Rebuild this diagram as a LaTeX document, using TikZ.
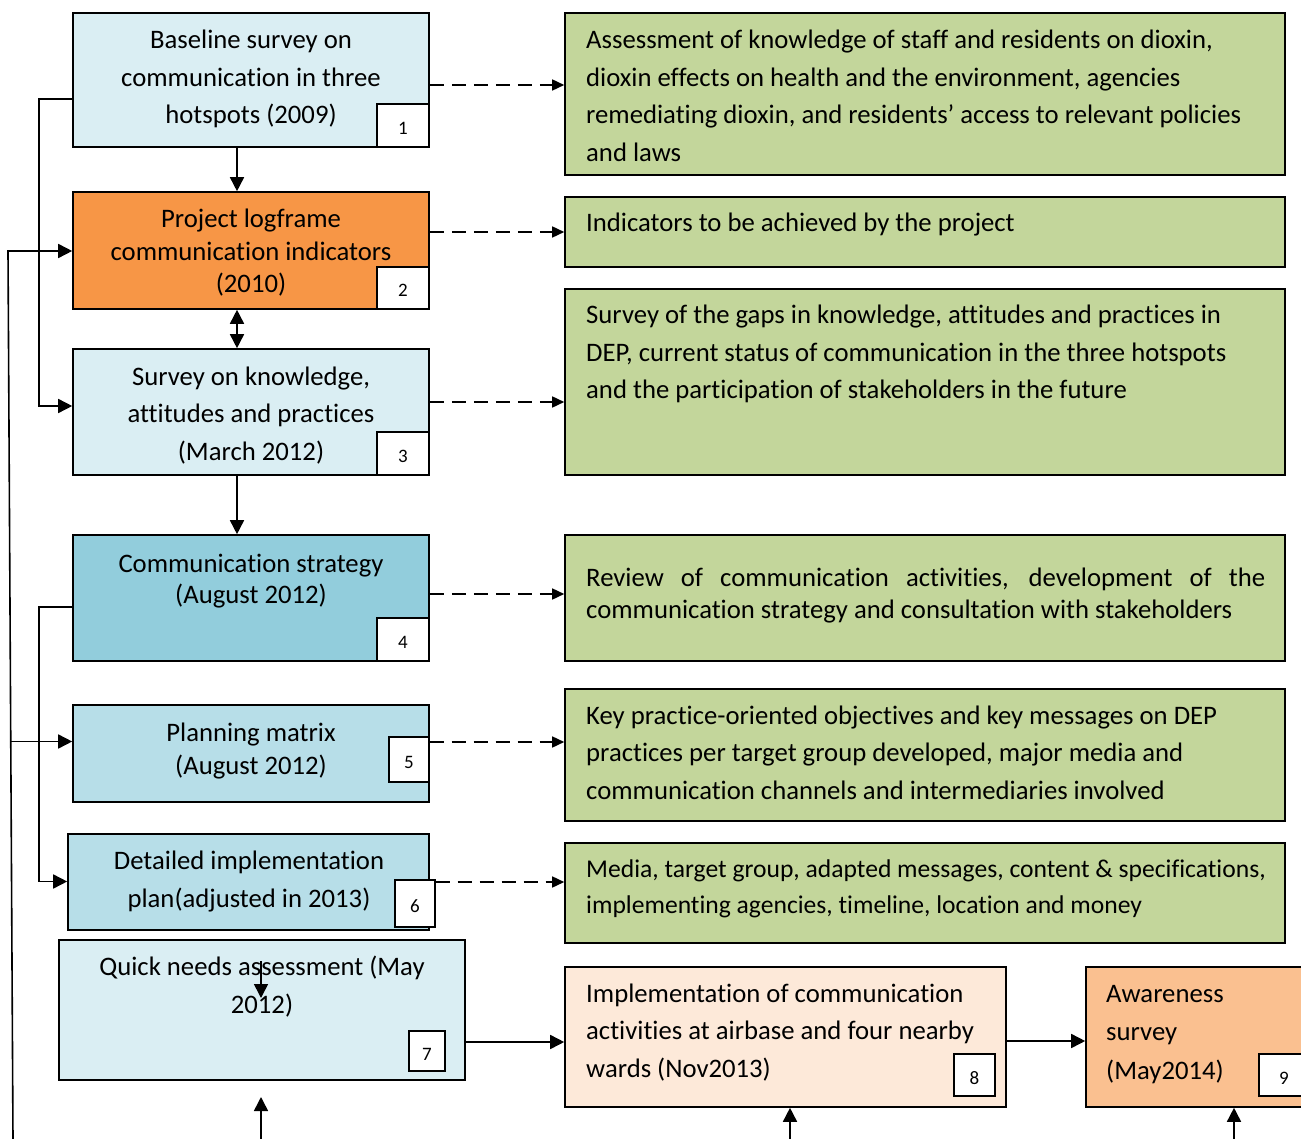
\documentclass[tikz,border=0pt]{standalone}
\usepackage{fontspec}
\setmainfont{Carlito}[Ligatures=NoCommon]
\usetikzlibrary{arrows.meta,fit}

\definecolor{paleblue}{HTML}{DAEEF3}
\definecolor{midblue}{HTML}{B7DEE8}
\definecolor{tealblue}{HTML}{92CDDC}
\definecolor{logorange}{HTML}{F79646}
\definecolor{peach}{HTML}{FDE9D9}
\definecolor{apricot}{HTML}{FAC090}
\definecolor{olive}{HTML}{C3D69B}

\newcommand\bodyfont[1]{\fontsize{26.7}{#1}\selectfont}

\begin{document}
\begin{tikzpicture}[x=1pt,y=-1pt,
    box/.style={draw=black, line width=1.6pt, inner sep=0pt},
    numbox/.style={draw=black, fill=white, line width=1.4pt, inner sep=0pt,
      text height=18pt, text depth=0pt, font=\fontsize{19}{19}\selectfont},
    ctext/.style={inner sep=0pt, align=center, anchor=base},
    ltext/.style={inner sep=0pt, align=left, anchor=base west},
    flow/.style={-{Triangle[length=14pt,width=14pt]}, line width=1.6pt},
    twoway/.style={{Triangle[length=14pt,width=14pt]}-{Triangle[length=14pt,width=14pt]}, line width=1.6pt},
    link/.style={-{Triangle[length=12pt,width=11pt]}, line width=1.6pt,
      dash pattern=on 14pt off 8pt}]

    \useasboundingbox (0,0) rectangle (1301,1139);
    \clip (0,0) rectangle (1301,1139);

    % left column
    \node[box, fill=paleblue, fit={(73,13) (429,147)}] (b1) {};
    \node[box, fill=logorange, fit={(73,192) (429,309)}] (b2) {};
    \node[box, fill=paleblue, fit={(73,349) (429,475)}] (b3) {};
    \node[box, fill=tealblue, fit={(73,535) (429,661)}] (b4) {};
    \node[box, fill=midblue, fit={(73,705) (429,802)}] (b5) {};
    \node[box, fill=midblue, fit={(68,834) (429,930)}] (b6) {};
    \node[box, fill=paleblue, fit={(59,940) (465,1080)}] (b7) {};

    % bottom row
    \node[box, fill=peach, fit={(565,967) (1006,1107)}] (b8) {};
    \node[box, fill=apricot, fit={(1086,967) (1310,1107)}] (b9) {};

    % right column
    \node[box, fill=olive, fit={(565,13) (1285,175)}] (g1) {};
    \node[box, fill=olive, fit={(565,197) (1285,267)}] (g2) {};
    \node[box, fill=olive, fit={(565,289) (1285,475)}] (g3) {};
    \node[box, fill=olive, fit={(565,535) (1285,661)}] (g4) {};
    \node[box, fill=olive, fit={(565,689) (1285,821)}] (g5) {};
    \node[box, fill=olive, fit={(565,843) (1285,943)}] (g6) {};

    % step numbers
    \node[numbox, minimum width=52pt, minimum height=43pt] (n1) at (403,125.5) {1};
    \node[numbox, minimum width=52pt, minimum height=42pt] (n2) at (403,288) {2};
    \node[numbox, minimum width=52pt, minimum height=43pt] (n3) at (403,453.5) {3};
    \node[numbox, minimum width=52pt, minimum height=43pt] (n4) at (403,639.5) {4};
    \node[numbox, minimum width=40pt, minimum height=45pt] (n5) at (409,759.5) {5};
    \node[numbox, minimum width=40pt, minimum height=47pt] (n6) at (415,903.5) {6};
    \node[numbox, minimum width=36pt, minimum height=40pt] (n7) at (427,1051) {7};
    \node[numbox, minimum width=41pt, minimum height=42pt] (n8) at (974.5,1075) {8};
    \node[numbox, minimum width=50pt, minimum height=42pt] (n9) at (1284,1075) {9};

    % texts
    \node[ctext, font=\bodyfont{37.5}] (t1) at (251,124)
      {Baseline survey on\\communication in three\\hotspots (2009)};
    \node[ctext, font=\bodyfont{32.5}] (t2) at (251,293)
      {Project logframe\\communication indicators\\(2010)};
    \node[ctext, font=\bodyfont{37.5}] (t3) at (251,460)
      {Survey on knowledge,\\attitudes and practices\\(March 2012)};
    \node[ctext, font=\bodyfont{31}] (t4) at (251,603)
      {Communication strategy\\(August 2012)};
    \node[ctext, font=\bodyfont{32.5}] (t5) at (251,774)
      {Planning matrix\\(August 2012)};
    \node[ctext, font=\bodyfont{38}] (t6) at (249,907)
      {Detailed implementation\\plan(adjusted in 2013)};
    \node[ctext, font=\bodyfont{37.5}] (t7) at (262,1013)
      {Quick needs assessment (May\\2012)};
    \node[ltext, font=\bodyfont{37.5}] (t8) at (586,1077)
      {Implementation of communication\\activities at airbase and four nearby\\wards (Nov2013)};
    \node[ltext, font=\bodyfont{38.5}] (t9) at (1106,1079)
      {Awareness\\survey\\(May2014)};

    \node[ltext, font=\bodyfont{37.5}] (s1) at (586,161.5)
      {Assessment of knowledge of staff and residents on dioxin,\\dioxin effects on health and the environment, agencies\\remediating dioxin, and residents’ access to relevant policies\\and laws};
    \node[ltext, font=\bodyfont{37.5}] (s2) at (586,232)
      {Indicators to be achieved by the project};
    \node[ltext, font=\bodyfont{37.5}] (s3) at (586,399)
      {Survey of the gaps in knowledge, attitudes and practices in\\DEP, current status of communication in the three hotspots\\and the participation of stakeholders in the future};
    \node[ltext, font=\bodyfont{32}] (s4) at (586,618)
      {\makebox[679pt][s]{Review of communication activities, development of the}\\communication strategy and consultation with stakeholders};
    \node[ltext, font=\bodyfont{37.5}] (s5) at (586,799)
      {Key practice-oriented objectives and key messages on DEP\\practices per target group developed, major media and\\communication channels and intermediaries involved};
    \node[ltext, font=\fontsize{25.6}{36}\selectfont] (s6) at (586,913)
      {Media, target group, adapted messages, content \& specifications,\\implementing agencies, timeline, location and money};

    % main flow
    \draw[flow] (b1.south -| 237,0) -- (b2.north -| 237,0);
    \draw[twoway] (b2.south -| 237,0) -- (b3.north -| 237,0);
    \draw[flow] (b3.south -| 237,0) -- (b4.north -| 237,0);

    % feedback lines on the left
    \draw[flow] (b1.west |- 0,99) -| (39,406) -- (b3.west |- 0,406);
    \draw[flow] (13,1139) -- (8,251) -- (b2.west |- 0,251);
    \draw[flow] (10.5,741.5) -- (b5.west |- 0,741.5);
    \draw[flow] (b4.west |- 0,607) -| (39,881.5) -- (b6.west |- 0,881.5);

    % outputs
    \draw[link] (b1.east |- 0,85) -- (g1.west |- 0,85);
    \draw[link] (b2.east |- 0,232) -- (g2.west |- 0,232);
    \draw[link] (b3.east |- 0,402) -- (g3.west |- 0,402);
    \draw[link] (b4.east |- 0,594) -- (g4.west |- 0,594);
    \draw[link] (n5.east |- 0,742) -- (g5.west |- 0,742);
    \draw[link] (n6.east |- 0,882) -- (g6.west |- 0,882);

    % bottom row
    \draw[flow] (b7.east |- 0,1042) -- (b8.west |- 0,1042);
    \draw[flow] (b8.east |- 0,1041) -- (b9.west |- 0,1041);
    \coordinate (q1) at (261,961);
    \coordinate (q2) at (261,998);
    \draw[flow] (q1) -- (q2);
    \coordinate (u7) at (261,1139);
    \coordinate (u8) at (790,1139);
    \coordinate (u9) at (1234,1139);
    \draw[flow] (u7) -- (261,1097);
    \draw[flow] (u8) -- (u8 |- b8.south);
    \draw[flow] (u9) -- (u9 |- b9.south);

  \end{tikzpicture}
\end{document}
